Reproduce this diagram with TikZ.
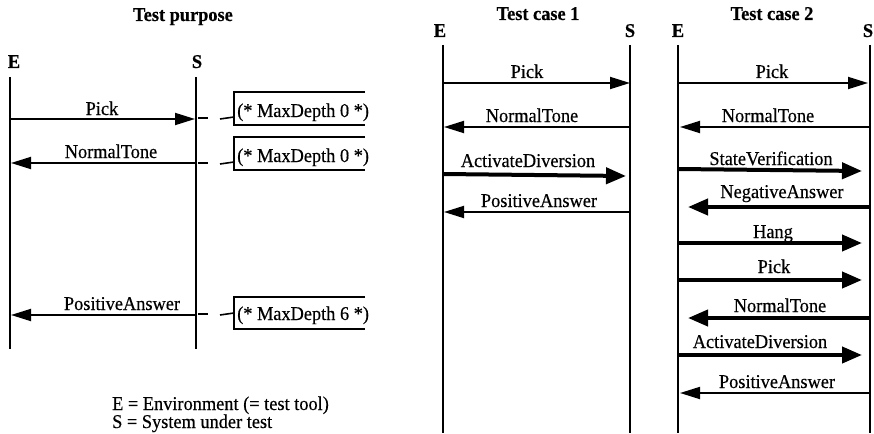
\documentclass[tikz,border=0pt]{standalone}
\usepackage{fontspec}
\setmainfont{Liberation Serif}[FakeStretch=0.94,FakeBold=0.4]
\usetikzlibrary{arrows.meta}
\tikzset{
  lifeline/.style={line width=1.8pt},
  thinmsg/.style={line width=1.8pt,-{Triangle[length=20pt,width=12pt]}},
  thickmsg/.style={line width=4pt,-{Triangle[length=20pt,width=16pt]}},
  lbl/.style={anchor=base,inner sep=0pt,font=\fontsize{19.5}{22}\selectfont},
  title/.style={lbl,font=\fontsize{19.5}{22}\selectfont\bfseries},
  bracket/.style={line width=1.8pt},
  tick/.style={line width=1.6pt}
}
\begin{document}
\begin{tikzpicture}[x=1pt,y=-1pt]
\useasboundingbox (0,0) rectangle (874,433);

% ---------- Test purpose ----------
\node[title] (tpT) at (183,21) {Test purpose};
\node[title] (tpE) at (14,68) {E};
\node[title] (tpS) at (197,68) {S};
\coordinate (tpEa) at (10,77);  \coordinate (tpEb) at (10,349);
\coordinate (tpSa) at (196,77); \coordinate (tpSb) at (196,349);
\draw[lifeline] (tpEa) -- (tpEb);
\draw[lifeline] (tpSa) -- (tpSb);

\coordinate (m1a) at (10,119);  \coordinate (m1b) at (195,119);
\draw[thinmsg] (m1a) -- (m1b);
\node[lbl] (m1l) at (102,115) {Pick};
\coordinate (m2a) at (196,163); \coordinate (m2b) at (11,163);
\draw[thinmsg] (m2a) -- (m2b);
\node[lbl] (m2l) at (111,158) {NormalTone};
\coordinate (m3a) at (196,315); \coordinate (m3b) at (11,315);
\draw[thinmsg] (m3a) -- (m3b);
\node[lbl] (m3l) at (122,310) {PositiveAnswer};

% comment brackets
\foreach \top/\bot/\base/\ty/\d in {92/125/117/118/0, 137/170/162/163/0, 297/329/320/314/6}{
  \draw[bracket] (365,\top) -- (234,\top) -- (234,\bot) -- (365,\bot);
  \node[lbl,anchor=base west] at (237,\base) {(* MaxDepth \d\ *)};
  \draw[tick] (198,\ty) -- (208,\ty);
  \draw[tick] (220,\ty+1) -- (234,\ty-1);
}

\node[lbl,anchor=base west] (leg1) at (112,410) {E = Environment (= test tool)};
\node[lbl,anchor=base west] (leg2) at (112,428) {S = System under test};

% ---------- Test case 1 ----------
\node[title] (c1T) at (538,20) {Test case 1};
\node[title] (c1E) at (440,37) {E};
\node[title] (c1S) at (630,37) {S};
\coordinate (c1Ea) at (443,45); \coordinate (c1Eb) at (443,433);
\coordinate (c1Sa) at (630,45); \coordinate (c1Sb) at (630,433);
\draw[lifeline] (c1Ea) -- (c1Eb);
\draw[lifeline] (c1Sa) -- (c1Sb);

\draw[thinmsg] (443,83) -- (630,83);
\node[lbl] at (527,78) {Pick};
\draw[thinmsg] (630,127) -- (444,127);
\node[lbl] at (532,122) {NormalTone};
\draw[thickmsg] (443,174) -- (626,176);
\node[lbl] at (528,167) {ActivateDiversion};
\draw[thinmsg] (630,212) -- (444,212);
\node[lbl] at (539,207) {PositiveAnswer};

% ---------- Test case 2 ----------
\node[title] (c2T) at (772,20) {Test case 2};
\node[title] (c2E) at (678,37) {E};
\node[title] (c2S) at (868,37) {S};
\coordinate (c2Ea) at (678,45); \coordinate (c2Eb) at (678,433);
\coordinate (c2Sa) at (870,45); \coordinate (c2Sb) at (870,433);
\draw[lifeline] (c2Ea) -- (c2Eb);
\draw[lifeline] (c2Sa) -- (c2Sb);

\draw[thinmsg] (678,83) -- (868,83);
\node[lbl] at (772,78) {Pick};
\draw[thinmsg] (870,127) -- (680,127);
\node[lbl] at (768,122) {NormalTone};
\draw[thickmsg] (678,169) -- (862,171);
\node[lbl] at (771,165) {StateVerification};
\draw[thickmsg] (870,207) -- (688,207);
\node[lbl] at (782,198) {NegativeAnswer};
\draw[thickmsg] (678,243) -- (862,243);
\node[lbl] at (773,238) {Hang};
\draw[thickmsg] (678,280) -- (862,280);
\node[lbl] at (774,273) {Pick};
\draw[thickmsg] (870,318) -- (688,318);
\node[lbl] at (780,312) {NormalTone};
\draw[thickmsg] (678,355) -- (862,355);
\node[lbl] at (760,348) {ActivateDiversion};
\draw[thinmsg] (870,393) -- (680,393);
\node[lbl] at (777,388) {PositiveAnswer};
\end{tikzpicture}
\end{document}
